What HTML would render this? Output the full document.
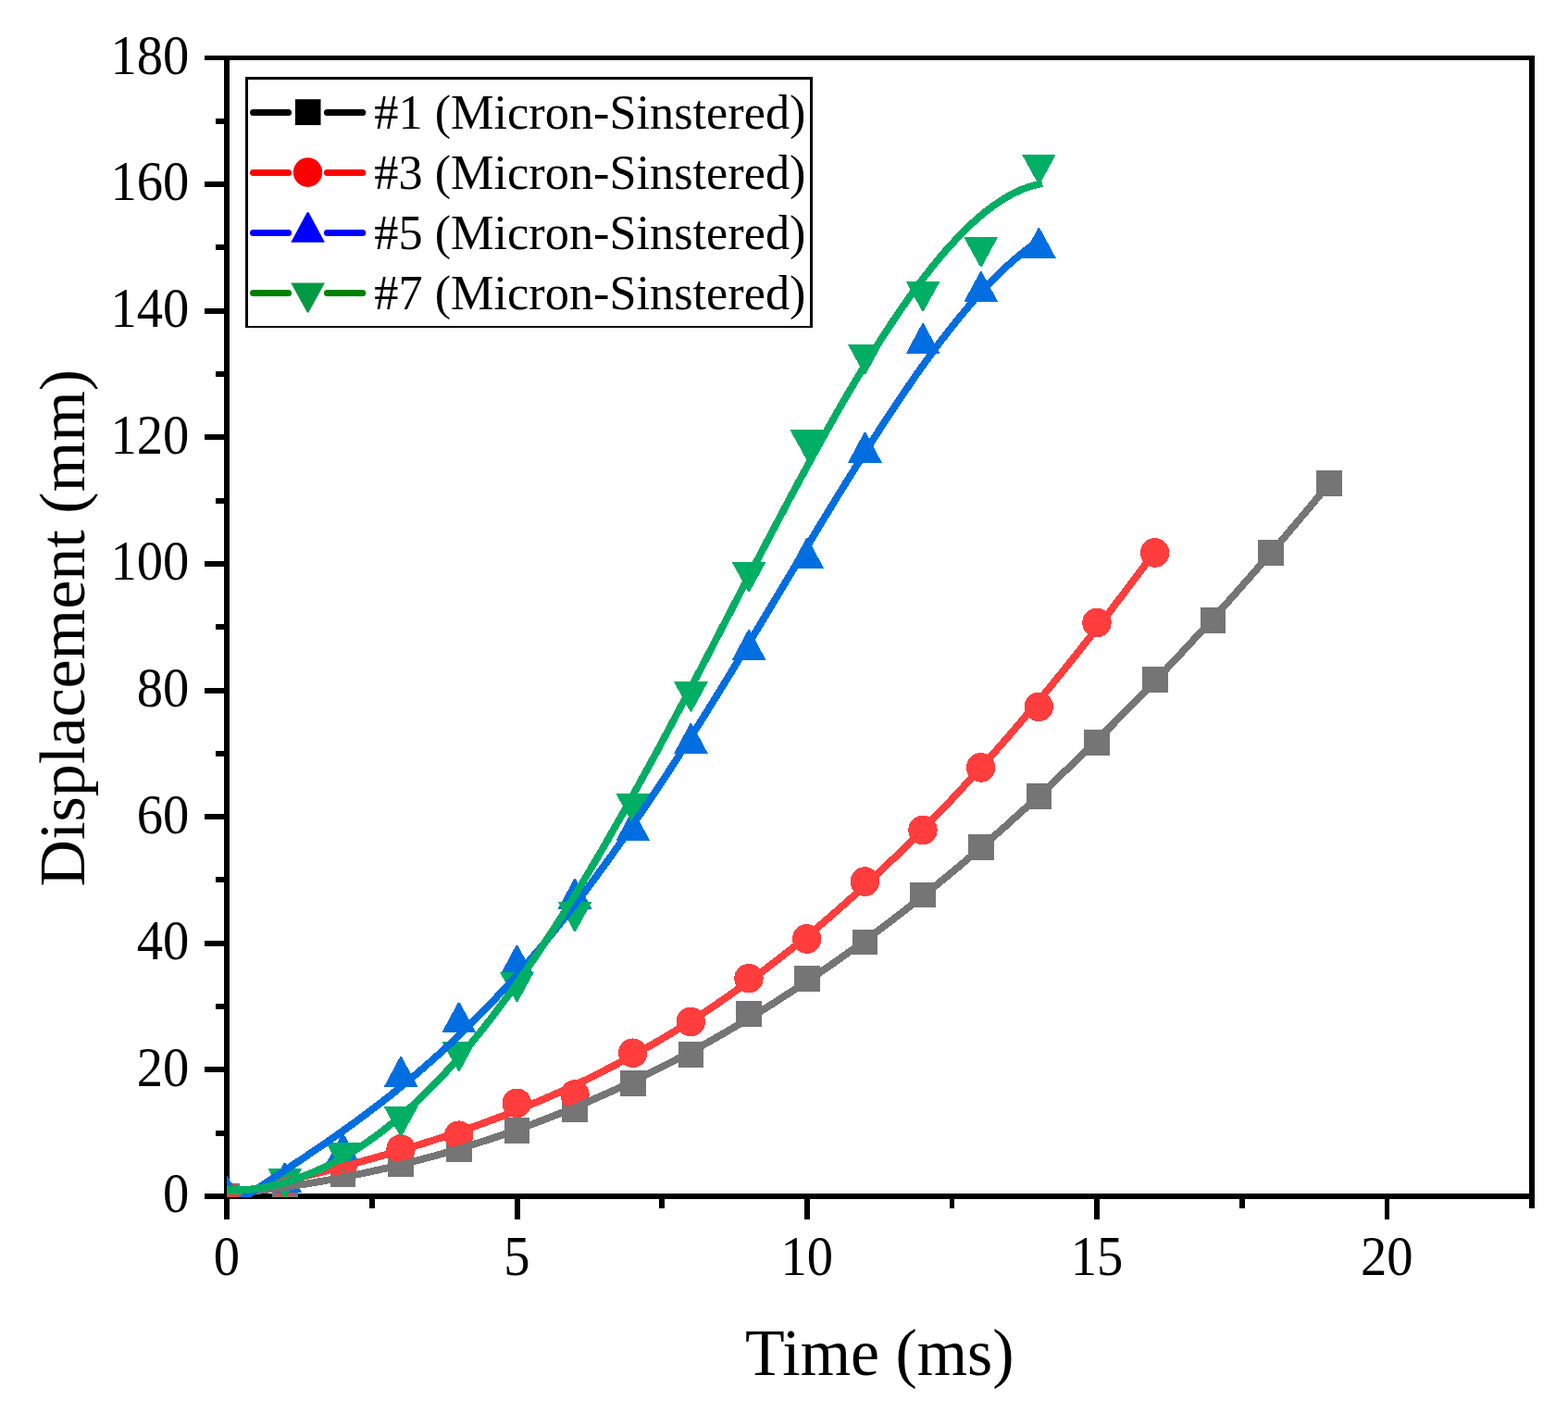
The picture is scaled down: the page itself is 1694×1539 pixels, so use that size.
<!DOCTYPE html>
<html lang="en"><head><meta charset="utf-8"><title>Displacement vs Time</title>
<style>html,body{margin:0;padding:0;background:#fff;}body{width:1694px;height:1539px;overflow:hidden;}svg{display:block;}text{font-family:"Liberation Serif",serif;fill:#000;}</style>
</head><body>
<svg width="1694" height="1539" viewBox="0 0 1694 1539" role="img" aria-label="Displacement versus time for four micron-sintered samples">
<rect width="1694" height="1539" fill="#fff"/>
<g fill="#000" shape-rendering="crispEdges">
<rect x="242" y="60" width="6" height="1257"/>
<rect x="1652" y="60" width="6" height="1245"/>
<rect x="221" y="60" width="1437" height="5"/>
<rect x="221" y="1289" width="1437" height="6"/>
<rect x="233" y="1221" width="10" height="6"/>
<rect x="221" y="1152" width="22" height="6"/>
<rect x="233" y="1084" width="10" height="6"/>
<rect x="221" y="1016" width="22" height="6"/>
<rect x="233" y="947" width="10" height="6"/>
<rect x="221" y="879" width="22" height="6"/>
<rect x="233" y="811" width="10" height="6"/>
<rect x="221" y="743" width="22" height="6"/>
<rect x="233" y="674" width="10" height="6"/>
<rect x="221" y="606" width="22" height="6"/>
<rect x="233" y="538" width="10" height="6"/>
<rect x="221" y="469" width="22" height="6"/>
<rect x="233" y="401" width="10" height="6"/>
<rect x="221" y="333" width="22" height="6"/>
<rect x="233" y="264" width="10" height="6"/>
<rect x="221" y="196" width="22" height="6"/>
<rect x="233" y="128" width="10" height="6"/>
<rect x="399" y="1294" width="6" height="11"/>
<rect x="556" y="1294" width="6" height="23"/>
<rect x="712" y="1294" width="6" height="11"/>
<rect x="869" y="1294" width="6" height="23"/>
<rect x="1026" y="1294" width="5" height="11"/>
<rect x="1182" y="1294" width="6" height="23"/>
<rect x="1339" y="1294" width="6" height="11"/>
<rect x="1496" y="1294" width="5" height="23"/>
</g>
<g font-size="59.6">
<text transform="translate(204.4 1309.3) scale(0.95 1.015)" text-anchor="end">0</text>
<text transform="translate(204.4 1172.7) scale(0.95 1.015)" text-anchor="end">20</text>
<text transform="translate(204.4 1036.1) scale(0.95 1.015)" text-anchor="end">40</text>
<text transform="translate(204.4 899.5) scale(0.95 1.015)" text-anchor="end">60</text>
<text transform="translate(204.4 762.9) scale(0.95 1.015)" text-anchor="end">80</text>
<text transform="translate(204.4 626.2) scale(0.95 1.015)" text-anchor="end">100</text>
<text transform="translate(204.4 489.6) scale(0.95 1.015)" text-anchor="end">120</text>
<text transform="translate(204.4 353.0) scale(0.95 1.015)" text-anchor="end">140</text>
<text transform="translate(204.4 216.4) scale(0.95 1.015)" text-anchor="end">160</text>
<text transform="translate(204.4 79.8) scale(0.95 1.015)" text-anchor="end">180</text>
<text transform="translate(245.0 1377.4) scale(0.95 1.015)" text-anchor="middle">0</text>
<text transform="translate(558.3 1377.4) scale(0.95 1.015)" text-anchor="middle">5</text>
<text transform="translate(871.7 1377.4) scale(0.95 1.015)" text-anchor="middle">10</text>
<text transform="translate(1185.0 1377.4) scale(0.95 1.015)" text-anchor="middle">15</text>
<text transform="translate(1498.3 1377.4) scale(0.95 1.015)" text-anchor="middle">20</text>
</g>
<text transform="translate(950.3 1485.4) scale(0.99 1.012)" font-size="70.6" text-anchor="middle">Time (ms)</text>
<text transform="translate(90.9 678.3) rotate(-90)" font-size="70.1" text-anchor="middle">Displacement (mm)</text>
<defs><clipPath id="plotclip"><rect x="245" y="62" width="1410" height="1231"/></clipPath></defs>
<g clip-path="url(#plotclip)" shape-rendering="crispEdges">
<g fill="#757575">
<rect x="231.40" y="1278.10" width="27.6" height="27.9"/>
<rect x="294.07" y="1267.17" width="27.6" height="27.9"/>
<rect x="356.73" y="1254.19" width="27.6" height="27.9"/>
<rect x="419.40" y="1243.26" width="27.6" height="27.9"/>
<rect x="482.07" y="1227.28" width="27.6" height="27.9"/>
<rect x="544.73" y="1207.47" width="27.6" height="27.9"/>
<rect x="607.40" y="1184.32" width="27.6" height="27.9"/>
<rect x="670.07" y="1155.83" width="27.6" height="27.9"/>
<rect x="732.73" y="1125.10" width="27.6" height="27.9"/>
<rect x="795.40" y="1081.38" width="27.6" height="27.9"/>
<rect x="858.07" y="1043.13" width="27.6" height="27.9"/>
<rect x="920.73" y="1003.51" width="27.6" height="27.9"/>
<rect x="983.40" y="952.56" width="27.6" height="27.9"/>
<rect x="1046.07" y="901.05" width="27.6" height="27.9"/>
<rect x="1108.73" y="846.41" width="27.6" height="27.9"/>
<rect x="1171.40" y="787.94" width="27.6" height="27.9"/>
<rect x="1234.07" y="719.77" width="27.6" height="27.9"/>
<rect x="1296.73" y="655.97" width="27.6" height="27.9"/>
<rect x="1359.40" y="582.95" width="27.6" height="27.9"/>
<rect x="1422.07" y="508.43" width="27.6" height="27.9"/>
</g>
<g fill="#ff3d3d">
<ellipse cx="245.00" cy="1292.00" rx="15.7" ry="15.8"/>
<ellipse cx="307.67" cy="1277.11" rx="15.7" ry="15.8"/>
<ellipse cx="370.33" cy="1257.85" rx="15.7" ry="15.8"/>
<ellipse cx="433.00" cy="1240.91" rx="15.7" ry="15.8"/>
<ellipse cx="495.67" cy="1226.22" rx="15.7" ry="15.8"/>
<ellipse cx="558.33" cy="1191.32" rx="15.7" ry="15.8"/>
<ellipse cx="621.00" cy="1182.03" rx="15.7" ry="15.8"/>
<ellipse cx="683.67" cy="1137.29" rx="15.7" ry="15.8"/>
<ellipse cx="746.33" cy="1103.48" rx="15.7" ry="15.8"/>
<ellipse cx="809.00" cy="1056.62" rx="15.7" ry="15.8"/>
<ellipse cx="871.67" cy="1014.00" rx="15.7" ry="15.8"/>
<ellipse cx="934.33" cy="952.11" rx="15.7" ry="15.8"/>
<ellipse cx="997.00" cy="896.51" rx="15.7" ry="15.8"/>
<ellipse cx="1059.67" cy="828.89" rx="15.7" ry="15.8"/>
<ellipse cx="1122.33" cy="763.31" rx="15.7" ry="15.8"/>
<ellipse cx="1185.00" cy="672.47" rx="15.7" ry="15.8"/>
<ellipse cx="1247.67" cy="596.92" rx="15.7" ry="15.8"/>
</g>
<g fill="#006ee1">
<path d="M244.20 1270.20h1.8L263.45 1302.70H226.75Z"/>
<path d="M306.87 1255.51h1.8L326.12 1288.01H289.42Z"/>
<path d="M369.53 1224.44h1.8L388.78 1256.94H352.08Z"/>
<path d="M432.20 1141.38h1.8L451.45 1173.88H414.75Z"/>
<path d="M494.87 1082.56h1.8L514.12 1115.06H477.42Z"/>
<path d="M557.53 1020.88h1.8L576.78 1053.38H540.08Z"/>
<path d="M620.20 949.16h1.8L639.45 981.66H602.75Z"/>
<path d="M682.87 875.39h1.8L702.12 907.89H665.42Z"/>
<path d="M745.53 781.34h1.8L764.78 813.84H728.08Z"/>
<path d="M808.20 680.31h1.8L827.45 712.81H790.75Z"/>
<path d="M870.87 581.41h1.8L890.12 613.91H853.42Z"/>
<path d="M933.53 467.13h1.8L952.78 499.63H916.08Z"/>
<path d="M996.20 349.44h1.8L1015.45 381.94H978.75Z"/>
<path d="M1058.87 293.43h1.8L1078.12 325.93H1041.42Z"/>
<path d="M1121.53 246.30h1.8L1140.78 278.80H1104.08Z"/>
</g>
<g fill="#00ae64">
<path d="M244.30 1313.40h1.6L263.45 1281.30H226.75Z"/>
<path d="M306.97 1294.27h1.6L326.12 1262.17H289.42Z"/>
<path d="M369.63 1265.93h1.6L388.78 1233.83H352.08Z"/>
<path d="M432.30 1227.34h1.6L451.45 1195.23H414.75Z"/>
<path d="M494.97 1156.98h1.6L514.12 1124.88H477.42Z"/>
<path d="M557.63 1082.19h1.6L576.78 1050.09H540.08Z"/>
<path d="M620.30 1006.02h1.6L639.45 973.92H602.75Z"/>
<path d="M682.97 889.22h1.6L702.12 857.12H665.42Z"/>
<path d="M745.63 768.53h1.6L764.78 736.43H728.08Z"/>
<path d="M808.30 639.22h1.6L827.45 607.12H790.75Z"/>
<path d="M870.97 496.12h1.6L890.12 464.02H853.42Z"/>
<path d="M933.63 404.25h1.6L952.78 372.15H916.08Z"/>
<path d="M996.30 336.15h1.6L1015.45 304.05H978.75Z"/>
<path d="M1058.97 288.34h1.6L1078.12 256.24H1041.42Z"/>
<path d="M1121.63 198.99h1.6L1140.78 166.89H1104.08Z"/>
</g>
<polyline fill="none" stroke="#757575" stroke-width="7.8" stroke-linecap="square" stroke-linejoin="round" points="245.0,1289.8 253.6,1288.9 262.1,1287.9 270.7,1287.0 279.3,1285.9 287.8,1284.8 296.4,1283.7 305.0,1282.5 313.5,1281.3 322.1,1279.9 330.7,1278.6 339.2,1277.2 347.8,1275.7 356.4,1274.2 364.9,1272.6 373.5,1270.9 382.1,1269.2 390.6,1267.5 399.2,1265.6 407.8,1263.8 416.3,1261.8 424.9,1259.8 433.5,1257.7 442.0,1255.6 450.6,1253.4 459.1,1251.1 467.7,1248.8 476.3,1246.4 484.8,1244.0 493.4,1241.5 502.0,1238.9 510.5,1236.2 519.1,1233.5 527.7,1230.7 536.2,1227.9 544.8,1225.0 553.4,1222.0 561.9,1218.9 570.5,1215.8 579.1,1212.6 587.6,1209.3 596.2,1206.0 604.8,1202.6 613.3,1199.1 621.9,1195.6 630.5,1192.0 639.0,1188.3 647.6,1184.5 656.2,1180.7 664.7,1176.8 673.3,1172.8 681.9,1168.7 690.4,1164.6 699.0,1160.4 707.6,1156.1 716.1,1151.8 724.7,1147.4 733.3,1142.9 741.8,1138.3 750.4,1133.7 759.0,1129.0 767.5,1124.2 776.1,1119.3 784.7,1114.4 793.2,1109.4 801.8,1104.3 810.4,1099.1 818.9,1093.9 827.5,1088.6 836.1,1083.2 844.6,1077.7 853.2,1072.1 861.7,1066.5 870.3,1060.8 878.9,1055.1 887.4,1049.2 896.0,1043.3 904.6,1037.3 913.1,1031.2 921.7,1025.1 930.3,1018.8 938.8,1012.5 947.4,1006.2 956.0,999.7 964.5,993.2 973.1,986.6 981.7,979.9 990.2,973.1 998.8,966.3 1007.4,959.4 1015.9,952.4 1024.5,945.4 1033.1,938.2 1041.6,931.0 1050.2,923.7 1058.8,916.4 1067.3,908.9 1075.9,901.4 1084.5,893.9 1093.0,886.2 1101.6,878.5 1110.2,870.7 1118.7,862.8 1127.3,854.9 1135.9,846.8 1144.4,838.8 1153.0,830.6 1161.6,822.4 1170.1,814.0 1178.7,805.7 1187.3,797.2 1195.8,788.7 1204.4,780.1 1213.0,771.4 1221.5,762.7 1230.1,753.9 1238.6,745.0 1247.2,736.1 1255.8,727.1 1264.3,718.0 1272.9,708.9 1281.5,699.7 1290.0,690.4 1298.6,681.1 1307.2,671.6 1315.7,662.2 1324.3,652.6 1332.9,643.0 1341.4,633.4 1350.0,623.6 1358.6,613.8 1367.1,604.0 1375.7,594.0 1384.3,584.1 1392.8,574.0 1401.4,563.9 1410.0,553.7 1418.5,543.5 1427.1,533.2 1435.7,522.9"/>
<polyline fill="none" stroke="#ff3d3d" stroke-width="7.8" stroke-linecap="square" stroke-linejoin="round" points="245.0,1291.8 252.2,1290.0 259.4,1288.1 266.6,1286.3 273.9,1284.5 281.1,1282.7 288.3,1280.8 295.5,1279.0 302.7,1277.2 309.9,1275.4 317.1,1273.6 324.3,1271.7 331.6,1269.9 338.8,1268.1 346.0,1266.2 353.2,1264.3 360.4,1262.4 367.6,1260.5 374.8,1258.6 382.1,1256.7 389.3,1254.7 396.5,1252.7 403.7,1250.7 410.9,1248.7 418.1,1246.6 425.3,1244.6 432.5,1242.4 439.8,1240.3 447.0,1238.1 454.2,1235.9 461.4,1233.6 468.6,1231.3 475.8,1229.0 483.0,1226.6 490.3,1224.2 497.5,1221.7 504.7,1219.2 511.9,1216.7 519.1,1214.1 526.3,1211.5 533.5,1208.8 540.8,1206.0 548.0,1203.2 555.2,1200.4 562.4,1197.5 569.6,1194.6 576.8,1191.5 584.0,1188.5 591.2,1185.4 598.5,1182.2 605.7,1179.0 612.9,1175.7 620.1,1172.3 627.3,1168.9 634.5,1165.4 641.7,1161.8 649.0,1158.2 656.2,1154.5 663.4,1150.8 670.6,1147.0 677.8,1143.1 685.0,1139.2 692.2,1135.1 699.4,1131.0 706.7,1126.9 713.9,1122.7 721.1,1118.4 728.3,1114.0 735.5,1109.5 742.7,1105.0 749.9,1100.4 757.2,1095.7 764.4,1091.0 771.6,1086.2 778.8,1081.3 786.0,1076.3 793.2,1071.2 800.4,1066.1 807.6,1060.9 814.9,1055.6 822.1,1050.3 829.3,1044.8 836.5,1039.3 843.7,1033.7 850.9,1028.0 858.1,1022.3 865.4,1016.4 872.6,1010.5 879.8,1004.5 887.0,998.4 894.2,992.3 901.4,986.0 908.6,979.7 915.8,973.3 923.1,966.8 930.3,960.3 937.5,953.6 944.7,946.9 951.9,940.1 959.1,933.2 966.3,926.3 973.6,919.2 980.8,912.1 988.0,904.9 995.2,897.6 1002.4,890.2 1009.6,882.8 1016.8,875.3 1024.1,867.7 1031.3,860.0 1038.5,852.2 1045.7,844.4 1052.9,836.5 1060.1,828.5 1067.3,820.4 1074.5,812.3 1081.8,804.1 1089.0,795.8 1096.2,787.4 1103.4,779.0 1110.6,770.5 1117.8,761.9 1125.0,753.2 1132.3,744.5 1139.5,735.7 1146.7,726.8 1153.9,717.9 1161.1,708.9 1168.3,699.8 1175.5,690.6 1182.7,681.4 1190.0,672.1 1197.2,662.8 1204.4,653.4 1211.6,643.9 1218.8,634.4 1226.0,624.8 1233.2,615.1 1240.5,605.4 1247.7,595.6"/>
<polyline fill="none" stroke="#006ee1" stroke-width="7.8" stroke-linecap="square" stroke-linejoin="round" points="245.0,1305.9 251.3,1301.5 257.6,1297.3 263.9,1293.0 270.2,1288.8 276.6,1284.6 282.9,1280.4 289.2,1276.3 295.5,1272.1 301.8,1267.9 308.1,1263.8 314.4,1259.6 320.7,1255.4 327.1,1251.2 333.4,1246.9 339.7,1242.7 346.0,1238.4 352.3,1234.1 358.6,1229.7 364.9,1225.3 371.2,1220.8 377.5,1216.3 383.9,1211.7 390.2,1207.1 396.5,1202.4 402.8,1197.6 409.1,1192.8 415.4,1187.9 421.7,1183.0 428.0,1177.9 434.4,1172.8 440.7,1167.6 447.0,1162.3 453.3,1156.9 459.6,1151.5 465.9,1145.9 472.2,1140.3 478.5,1134.5 484.8,1128.7 491.2,1122.7 497.5,1116.7 503.8,1110.6 510.1,1104.3 516.4,1098.0 522.7,1091.5 529.0,1085.0 535.3,1078.3 541.7,1071.5 548.0,1064.7 554.3,1057.7 560.6,1050.6 566.9,1043.4 573.2,1036.1 579.5,1028.6 585.8,1021.1 592.1,1013.5 598.5,1005.7 604.8,997.9 611.1,989.9 617.4,981.9 623.7,973.7 630.0,965.4 636.3,957.0 642.6,948.6 649.0,940.0 655.3,931.3 661.6,922.5 667.9,913.6 674.2,904.7 680.5,895.6 686.8,886.4 693.1,877.2 699.4,867.8 705.8,858.4 712.1,848.9 718.4,839.3 724.7,829.7 731.0,819.9 737.3,810.1 743.6,800.2 749.9,790.3 756.3,780.3 762.6,770.2 768.9,760.1 775.2,749.9 781.5,739.7 787.8,729.4 794.1,719.1 800.4,708.7 806.7,698.3 813.1,687.9 819.4,677.5 825.7,667.0 832.0,656.5 838.3,646.0 844.6,635.6 850.9,625.1 857.2,614.6 863.6,604.1 869.9,593.6 876.2,583.2 882.5,572.7 888.8,562.3 895.1,552.0 901.4,541.6 907.7,531.4 914.0,521.2 920.4,511.0 926.7,500.9 933.0,490.9 939.3,480.9 945.6,471.1 951.9,461.3 958.2,451.6 964.5,442.1 970.9,432.6 977.2,423.3 983.5,414.1 989.8,405.0 996.1,396.1 1002.4,387.3 1008.7,378.7 1015.0,370.3 1021.3,362.0 1027.7,353.9 1034.0,346.0 1040.3,338.3 1046.6,330.8 1052.9,323.5 1059.2,316.4 1065.5,309.6 1071.8,303.0 1078.2,296.7 1084.5,290.6 1090.8,284.8 1097.1,279.3 1103.4,274.0 1109.7,269.1 1116.0,264.4 1122.3,260.1"/>
<polyline fill="none" stroke="#00ae64" stroke-width="7.8" stroke-linecap="square" stroke-linejoin="round" points="245.0,1286.6 251.3,1286.3 257.6,1285.9 263.9,1285.3 270.2,1284.6 276.6,1283.7 282.9,1282.7 289.2,1281.4 295.5,1280.1 301.8,1278.5 308.1,1276.8 314.4,1274.8 320.7,1272.8 327.1,1270.5 333.4,1268.1 339.7,1265.4 346.0,1262.6 352.3,1259.7 358.6,1256.5 364.9,1253.1 371.2,1249.6 377.5,1245.9 383.9,1242.0 390.2,1237.9 396.5,1233.6 402.8,1229.2 409.1,1224.5 415.4,1219.7 421.7,1214.7 428.0,1209.5 434.4,1204.1 440.7,1198.5 447.0,1192.8 453.3,1186.9 459.6,1180.7 465.9,1174.4 472.2,1168.0 478.5,1161.3 484.8,1154.5 491.2,1147.5 497.5,1140.3 503.8,1132.9 510.1,1125.4 516.4,1117.7 522.7,1109.8 529.0,1101.7 535.3,1093.5 541.7,1085.1 548.0,1076.6 554.3,1067.9 560.6,1059.0 566.9,1050.0 573.2,1040.9 579.5,1031.6 585.8,1022.1 592.1,1012.5 598.5,1002.7 604.8,992.9 611.1,982.8 617.4,972.7 623.7,962.4 630.0,952.0 636.3,941.5 642.6,930.8 649.0,920.1 655.3,909.2 661.6,898.2 667.9,887.1 674.2,876.0 680.5,864.7 686.8,853.3 693.1,841.9 699.4,830.4 705.8,818.8 712.1,807.1 718.4,795.3 724.7,783.5 731.0,771.7 737.3,759.7 743.6,747.8 749.9,735.8 756.3,723.7 762.6,711.7 768.9,699.6 775.2,687.4 781.5,675.3 787.8,663.2 794.1,651.0 800.4,638.9 806.7,626.8 813.1,614.6 819.4,602.6 825.7,590.5 832.0,578.5 838.3,566.5 844.6,554.6 850.9,542.7 857.2,530.9 863.6,519.1 869.9,507.5 876.2,495.9 882.5,484.4 888.8,473.0 895.1,461.7 901.4,450.6 907.7,439.5 914.0,428.6 920.4,417.9 926.7,407.2 933.0,396.8 939.3,386.4 945.6,376.3 951.9,366.3 958.2,356.6 964.5,347.0 970.9,337.6 977.2,328.5 983.5,319.5 989.8,310.8 996.1,302.4 1002.4,294.2 1008.7,286.2 1015.0,278.6 1021.3,271.2 1027.7,264.1 1034.0,257.2 1040.3,250.7 1046.6,244.6 1052.9,238.7 1059.2,233.2 1065.5,228.0 1071.8,223.2 1078.2,218.8 1084.5,214.7 1090.8,211.0 1097.1,207.8 1103.4,204.9 1109.7,202.5 1116.0,200.5 1122.3,198.9"/>
</g>
<path fill="#000" fill-rule="evenodd" shape-rendering="crispEdges" d="M265 83H878V354H265ZM268 86V352H875V86Z"/>
<g stroke="#000000" stroke-width="7.2" stroke-linecap="round"><line x1="273.6" y1="121.5" x2="311.5" y2="121.5"/><line x1="353.5" y1="121.5" x2="391.7" y2="121.5"/></g>
<g fill="#000000"><rect x="318.90" y="107.20" width="27.6" height="27.9"/></g>
<text x="404.3" y="139.1" font-size="52.3">#1 (Micron-Sinstered)</text>
<g stroke="#ff0000" stroke-width="7.2" stroke-linecap="round"><line x1="273.6" y1="186.5" x2="311.5" y2="186.5"/><line x1="353.5" y1="186.5" x2="391.7" y2="186.5"/></g>
<g fill="#ff0000"><ellipse cx="332.50" cy="186.10" rx="15.7" ry="15.8"/></g>
<text x="404.3" y="204.1" font-size="52.3">#3 (Micron-Sinstered)</text>
<g stroke="#0000ff" stroke-width="7.2" stroke-linecap="round"><line x1="273.6" y1="251.5" x2="311.5" y2="251.5"/><line x1="353.5" y1="251.5" x2="391.7" y2="251.5"/></g>
<g fill="#0000ff"><path d="M331.70 229.30h1.8L350.95 261.80H314.25Z"/></g>
<text x="404.3" y="269.1" font-size="52.3">#5 (Micron-Sinstered)</text>
<g stroke="#008000" stroke-width="7.2" stroke-linecap="round"><line x1="273.6" y1="316.5" x2="311.5" y2="316.5"/><line x1="353.5" y1="316.5" x2="391.7" y2="316.5"/></g>
<g fill="#009944"><path d="M331.80 337.50h1.6L350.95 305.40H314.25Z"/></g>
<text x="404.3" y="334.1" font-size="52.3">#7 (Micron-Sinstered)</text>
</svg></body></html>
